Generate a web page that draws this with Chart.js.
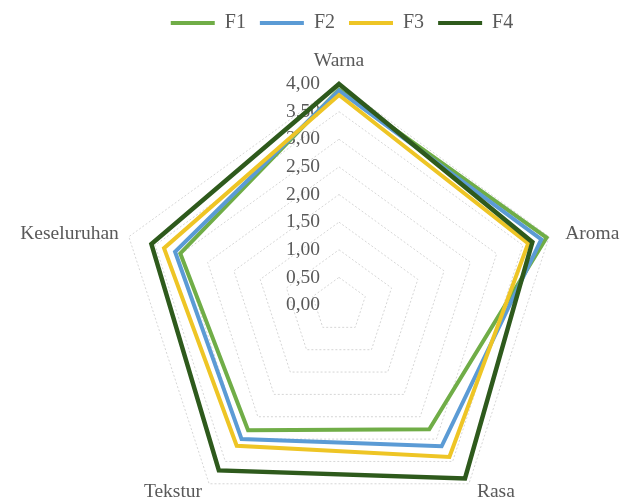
<!DOCTYPE html>
<html>
<head>
<meta charset="utf-8">
<script src="https://cdn.jsdelivr.net/npm/chart.js@4/dist/chart.umd.min.js"></script>
<style>
  html, body { margin: 0; padding: 0; background: #ffffff; }
  #wrap { width: 622px; height: 501px; }
</style>
</head>
<body>
<div id="wrap"><canvas id="radar" width="622" height="501"></canvas></div>
<script>
// Sensory attributes and mean scores per formula
const CATEGORIES = ['Warna', 'Aroma', 'Rasa', 'Tekstur', 'Keseluruhan'];
const SERIES_NAMES = ['F1', 'F2', 'F3', 'F4'];
const F1 = [3.90, 3.95, 2.78, 2.80, 3.02];
const F2 = [3.88, 3.85, 3.16, 3.00, 3.12];
const F3 = [3.80, 3.60, 3.40, 3.15, 3.33];
const F4 = [4.00, 3.68, 3.88, 3.70, 3.57];
const TICK_VALUES = [0, 0.5, 1, 1.5, 2, 2.5, 3, 3.5, 4];
const TICK_LABELS = ['0,00', '0,50', '1,00', '1,50', '2,00', '2,50', '3,00', '3,50', '4,00'];

// Styling
const COLORS = ['#70AD47', '#5B9BD5', '#EEC525', '#2E5A1C'];
const LINE_WIDTHS = [4, 4, 4, 4.5];
const TEXT_COLOR = '#595959';
const FONT_FAMILY = '"Liberation Serif", "Times New Roman", serif';
const LABEL_SIZE = 19.5;
const TICK_SIZE = 19.5;

// Radar placement inside the canvas
const CENTER_X = 339;
const CENTER_Y = 305;
const RADIUS = 221;
const TICK_OFFSET = 19;           // tick labels sit left of the vertical spoke
const LABEL_DX = [0, 16, 8, 7, 10];        // horizontal gap between vertex and label
const LABEL_DY = [-23.6, -3, 7.6, 7.6, -3]; // label centre relative to vertex

const SERIES = [F1, F2, F3, F4];

// Places the radar and rebuilds the category label boxes around it
function placeRadar(scale) {
  scale.xCenter = CENTER_X;
  scale.yCenter = CENTER_Y;
  scale.drawingArea = RADIUS;
  const ctx = scale.ctx;
  ctx.save();
  ctx.font = LABEL_SIZE + 'px ' + FONT_FAMILY;
  const lh = LABEL_SIZE * 1.2;
  scale._pointLabelItems = scale._pointLabels.map((text, i) => {
    const v = scale.getPointPosition(i, RADIUS);
    let deg = Math.round((v.angle + Math.PI / 2) * 180 / Math.PI);
    deg = ((deg % 360) + 360) % 360;
    const w = ctx.measureText(text).width;
    let textAlign = 'center';
    let x = v.x;
    if (deg !== 0 && deg !== 180) {
      textAlign = deg < 180 ? 'left' : 'right';
      x = deg < 180 ? v.x + LABEL_DX[i] : v.x - LABEL_DX[i];
    }
    const top = v.y + LABEL_DY[i] - lh / 2;
    const left = textAlign === 'center' ? x - w / 2 : (textAlign === 'left' ? x : x - w);
    return { visible: true, x, y: top, textAlign, left, top, right: left + w, bottom: top + lh };
  });
  ctx.restore();
}

// Value labels along the vertical spoke, drawn beneath the series lines
const tickLabelPlugin = {
  id: 'tickLabels',
  beforeDatasetsDraw(chart) {
    const scale = chart.scales.r;
    const ctx = chart.ctx;
    ctx.save();
    ctx.font = TICK_SIZE + 'px ' + FONT_FAMILY;
    ctx.fillStyle = TEXT_COLOR;
    ctx.textAlign = 'right';
    ctx.textBaseline = 'middle';
    TICK_VALUES.forEach((v, i) => {
      const p = scale.getPointPositionForValue(0, v);
      ctx.fillText(TICK_LABELS[i], p.x - TICK_OFFSET, p.y);
    });
    ctx.restore();
  }
};

const datasets = SERIES.map((values, i) => ({
  label: SERIES_NAMES[i],
  data: values,
  borderColor: COLORS[i],
  backgroundColor: COLORS[i],
  borderWidth: LINE_WIDTHS[i],
  borderJoinStyle: 'miter',
  fill: false,
  pointRadius: 0,
  pointHoverRadius: 0,
  tension: 0,
  clip: false,
  order: SERIES.length - i
}));

new Chart(document.getElementById('radar'), {
  type: 'radar',
  data: { labels: CATEGORIES, datasets },
  options: {
    responsive: false,
    animation: false,
    layout: { padding: { left: 62, top: -1 } },
    plugins: {
      tooltip: { enabled: false },
      legend: {
        position: 'top',
        labels: {
          boxWidth: 44,
          boxHeight: 4,
          padding: 14,
          color: TEXT_COLOR,
          font: { family: FONT_FAMILY, size: 20 },
          generateLabels: (chart) => chart.data.datasets.map((ds, i) => ({
            text: ds.label,
            fillStyle: ds.borderColor,
            strokeStyle: ds.borderColor,
            lineWidth: 0,
            hidden: false,
            datasetIndex: i,
            fontColor: TEXT_COLOR
          }))
        }
      }
    },
    scales: {
      r: {
        min: 0,
        max: 4,
        ticks: { stepSize: 0.5, display: false },
        angleLines: { display: false },
        grid: { color: '#d6d6d6', lineWidth: 1 },
        border: { dash: [2, 2] },
        pointLabels: {
          color: TEXT_COLOR,
          font: { family: FONT_FAMILY, size: LABEL_SIZE },
          padding: 0
        },
        afterFit: placeRadar
      }
    }
  },
  plugins: [tickLabelPlugin]
});
</script>
</body>
</html>
